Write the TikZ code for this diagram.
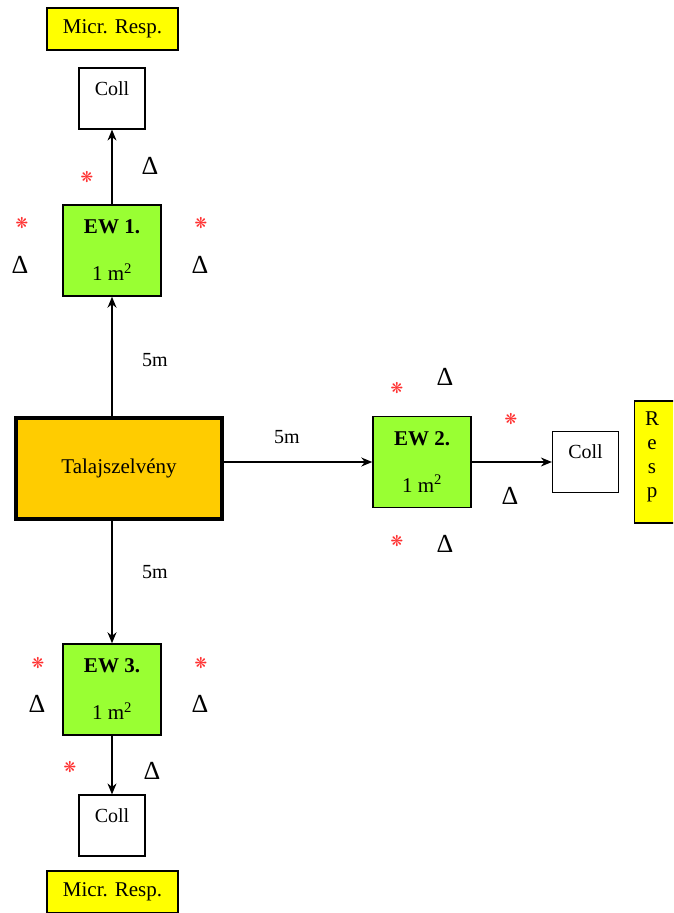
\documentclass[tikz,border=0pt]{standalone}
\usepackage{fontspec}
\setmainfont{Liberation Serif}
\newfontfamily\symfont{DejaVu Sans}
\usetikzlibrary{arrows.meta, positioning}
\definecolor{ewgreen}{HTML}{99FF33}
\definecolor{soilorange}{HTML}{FFCC00}
\definecolor{respyellow}{HTML}{FFFF00}
\definecolor{starred}{HTML}{FF3030}

\begin{document}
\begin{tikzpicture}[x=1pt, y=-1pt,
  ewbox/.style={rectangle, draw=black, line width=1.5pt, fill=ewgreen, minimum width=98pt,
    minimum height=91pt, align=center, font=\fontsize{21}{25}\selectfont},
  soilbox/.style={rectangle, draw=black, line width=3.5pt, fill=soilorange, minimum width=206pt,
    minimum height=101pt, font=\fontsize{21}{25}\selectfont},
  collbox/.style={rectangle, draw=black, line width=1.2pt, fill=white, minimum width=66pt,
    inner ysep=0pt, text height=27pt, text depth=34pt, font=\fontsize{20}{24}\selectfont},
  respbox/.style={rectangle, draw=black, line width=1.2pt, fill=respyellow, minimum width=131pt,
    minimum height=42pt, font=\fontsize{21}{25}\selectfont},
  distlabel/.style={font=\fontsize{20}{24}\selectfont},
  redstar/.style={text=starred, font=\symfont\fontsize{15}{17}\selectfont, inner sep=0pt},
  deltamark/.style={font=\fontsize{26}{28}\selectfont, inner sep=0pt},
  arrow/.style={-{Stealth[length=11pt, width=9pt]}, line width=1.3pt}
]
\useasboundingbox (0,0) rectangle (673,913);
\clip (0,0) rectangle (673,913);

% Talajszelvény
\node (soil) [soilbox] at (119,468.5) {Talajszelvény};

% EW 1 (felül)
\node (ew1) [ewbox] at (112,250.5) {\textbf{EW 1.}\\[22pt]1 m\textsuperscript{2}};
\node (coll1) [collbox] at (112,98.5) {Coll};
\node (micr1) [respbox] at (112.5,29) {Micr. Resp.};

% EW 2 (jobbra)
\node (ew2) [ewbox] at (422,462) {\textbf{EW 2.}\\[22pt]1 m\textsuperscript{2}};
\node (coll2) [collbox] at (585.5,462) {Coll};
\node (resp) [respbox, anchor=west, minimum width=50pt, minimum height=122pt] at (634,462) {};
\node (resptext) [align=center, font=\fontsize{21}{24}\selectfont] at (652,457) {R\\e\\s\\p};

% EW 3 (alul)
\node (ew3) [ewbox] at (112,689.5) {\textbf{EW 3.}\\[22pt]1 m\textsuperscript{2}};
\node (coll3) [collbox] at (112,825.5) {Coll};
\node (micr3) [respbox] at (112.5,892) {Micr. Resp.};

% Nyilak
\draw [arrow] (soil.north -| ew1.south) -- (ew1.south);
\draw [arrow] (ew1.north) -- (coll1.south);
\draw [arrow] (soil.east |- ew2.west) -- (ew2.west);
\draw [arrow] (ew2.east) -- (coll2.west);
\draw [arrow] (soil.south -| ew3.north) -- (ew3.north);
\draw [arrow] (ew3.south) -- (coll3.north);

% Távolságok
\node (d1) [distlabel] at (155,360) {5m};
\node (d2) [distlabel] at (287,437) {5m};
\node (d3) [distlabel] at (155,572) {5m};

% Jelölések
\foreach \x/\y/\name in {87/177/s1a, 22/223/s1b, 201/223/s1c,
    397/388/s2a, 511/419/s2b, 397/541/s2c,
    38/663/s3a, 201/663/s3b, 70/767/s3c}
  \node (\name) [redstar] at (\x,\y) {❋};
\foreach \x/\y/\name in {150/166/t1a, 20/265/t1b, 200/265/t1c,
    445/377/t2a, 510/496/t2b, 445/544/t2c,
    37/704/t3a, 200/704/t3b, 152/771/t3c}
  \node (\name) [deltamark] at (\x,\y) {Δ};

\end{tikzpicture}
\end{document}
